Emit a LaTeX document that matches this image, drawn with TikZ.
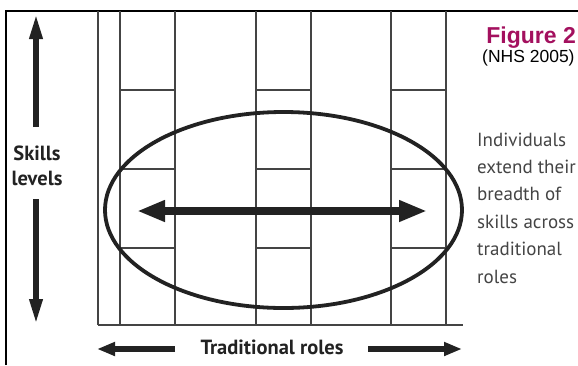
\documentclass[tikz,border=0pt]{standalone}
\usepackage{fontspec}
\setmainfont{PT Sans}
\newfontfamily\figfont{Liberation Sans}
\usetikzlibrary{arrows.meta,shapes.geometric}
\definecolor{figred}{HTML}{A3105E}
\definecolor{ink}{HTML}{222222}
\definecolor{gridc}{HTML}{444444}
\definecolor{txtgray}{HTML}{444444}
\tikzset{
  gridline/.style={draw=gridc, line width=1.4pt},
  frameline/.style={draw=black, line width=2pt},
  bigarrow/.style={draw=ink, line width=8pt, {Triangle[length=28pt,width=20pt]}-{Triangle[length=28pt,width=20pt]}},
  vertarrow/.style={draw=ink, line width=6pt, -{Triangle[length=26pt,width=12pt]}},
  botarrow/.style={draw=ink, line width=6.5pt, -{Triangle[length=18pt,width=13pt]}},
  ell/.style={draw=ink, line width=3.8pt},
  boldlabel/.style={font=\bfseries\fontsize{20.5}{25}\selectfont, text=ink, inner sep=0pt},
  sidetext/.style={font=\fontsize{19}{27.4}\selectfont, text=txtgray, inner sep=0pt, align=left},
}
\begin{document}
\begin{tikzpicture}[x=1pt,y=-1pt]
\useasboundingbox (0,0) rectangle (578,365);
% frame
\draw[frameline] (6,365) -- (6,11) -- (578,11);
% vertical grid lines
\foreach \xx in {98,120,175,256,311,391,446}
  \draw[gridline] (\xx,11) -- (\xx,325);
% horizontal segments in columns
\foreach \xa/\xb in {120/175,256/311,391/446}
  \foreach \yy in {90,169,248}
    \draw[gridline] (\xa,\yy) -- (\xb,\yy);
% bottom line
\draw[draw=gridc, line width=2pt] (98,325) -- (463,325);
% ellipse
\node[ell, ellipse, minimum width=357pt, minimum height=196pt, inner sep=0pt] (oval) at (283.5,210) {};
% horizontal double arrow
\coordinate (hl) at (137,211);
\coordinate (hr) at (427,211);
\draw[bigarrow] (hl) -- (hr);
% skills levels
\node[boldlabel, align=center, anchor=base] (skills) at (37,185) {Skills\\levels};
\coordinate (upbot) at (36,127);
\coordinate (uptop) at (36,13);
\coordinate (dntop) at (36,199);
\coordinate (dnbot) at (36,325);
\draw[vertarrow] (upbot) -- (uptop);
\draw[vertarrow] (dntop) -- (dnbot);
% traditional roles
\node[boldlabel, anchor=base] (trad) at (272,354) {Traditional roles};
\coordinate (la) at (175,349);
\coordinate (lb) at (97,349);
\coordinate (ra) at (368,349);
\coordinate (rb) at (462,349);
\draw[botarrow] (la) -- (lb);
\draw[botarrow] (ra) -- (rb);
% figure title
\node[font=\figfont\bfseries\fontsize{23}{26}\selectfont, text=figred, anchor=base east, inner sep=0pt] (fig) at (576,43) {Figure 2};
\node[font=\figfont\fontsize{17.5}{20}\selectfont, text=black, anchor=base west, inner sep=0pt] (nhs) at (482,62) {(NHS 2005)};
% side text
\node[sidetext, anchor=base west] (side) at (477,283) {Individuals\\extend their\\breadth of\\skills across\\traditional\\roles};
\end{tikzpicture}
\end{document}
